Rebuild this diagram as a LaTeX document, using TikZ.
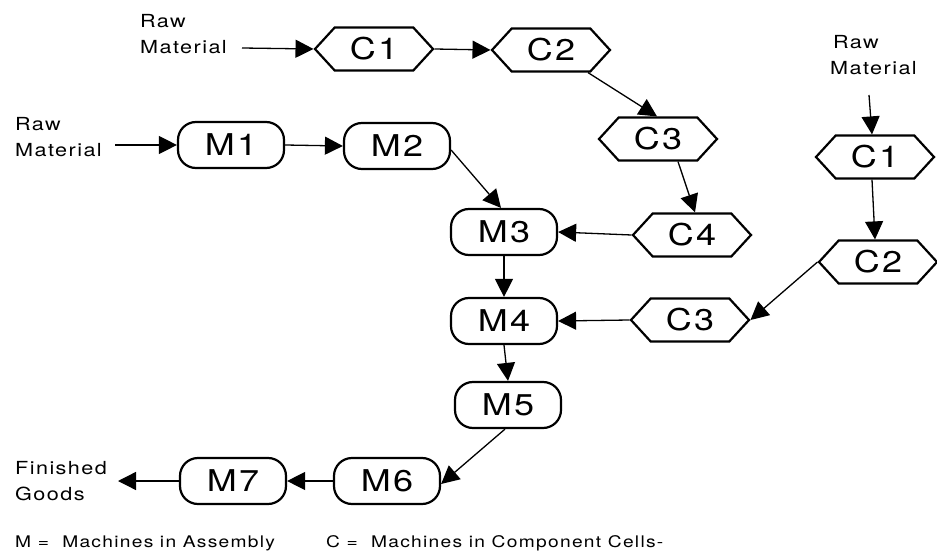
\documentclass[tikz,border=0pt]{standalone}
\usepackage{fontspec}
\setmainfont{TeX Gyre Heros}[LetterSpace=8,FakeStretch=1.2]
\usetikzlibrary{shapes.misc,shapes.symbols,arrows.meta}

\tikzset{
  mbox/.style={draw, line width=2.2pt, rounded corners=18pt,
    minimum width=106pt, minimum height=46pt, inner sep=0pt,
    font=\fontsize{30}{32}\selectfont},
  cbox/.style={draw, line width=2.2pt, signal, signal to=west and east,
    signal pointer angle=95, minimum width=118pt, minimum height=43pt,
    inner sep=0pt, font=\fontsize{30}{32}\selectfont},
  lbl/.style={align=left, inner sep=0pt, anchor=west,
    font=\fontsize{18}{30}\selectfont},
  keytext/.style={inner sep=0pt, anchor=west,
    font=\fontsize{16}{20}\selectfont},
  flow/.style={line width=1.3pt, -{Triangle[length=18pt,width=18pt]}},
}

\begin{document}
\begin{tikzpicture}[x=1pt,y=-1pt]
  \useasboundingbox (0,0) rectangle (937,556);

  % assembly line
  \node[mbox] (M1) at (231,145) {M1};
  \node[mbox] (M2) at (397,146) {M2};
  \node[mbox] (M3) at (504,232) {M3};
  \node[mbox] (M4) at (504,321) {M4};
  \node[mbox] (M5) at (508,405) {M5};
  \node[mbox] (M6) at (387,481) {M6};
  \node[mbox] (M7) at (233,481) {M7};

  % first component cell
  \node[cbox] (A1) at (374,49) {C1};
  \node[cbox] (A2) at (551,50) {C2};
  \node[cbox] (A3) at (658,139) {C3};
  \node[cbox] (A4) at (692,235) {C4};

  % second component cell
  \node[cbox] (B1) at (875,157) {C1};
  \node[cbox] (B2) at (878,262) {C2};
  \node[cbox] (B3) at (690,320) {C3};

  % texts
  \node[lbl] (rawA) at (140,34) {Raw\\[-4pt]Material};
  \node[lbl] (rawM) at (15,137) {Raw\\[-4pt]Material};
  \node[lbl] (rawB) at (830,55) {\hspace*{3pt}Raw\\[-4pt]Material};
  \node[lbl] (fin) at (15,481) {Finished\\[-4pt]Goods};
  \node[keytext] (keyM) at (15,543) {M =\ \ Machines in Assembly};
  \node[keytext] (keyC) at (326,543) {C =\ \ Machines in Component Cells-};

  \coordinate (rawAend) at (242,48);
  \coordinate (rawMend) at (115,145);
  \coordinate (rawBend) at (872,95);
  \coordinate (finend) at (118,481);

  % connectors
  \draw[flow] (rawAend) -- (A1.west);
  \draw[flow] (A1.east) -- (A2.west);
  \draw[flow] ([xshift=37pt]A2.south) -- ([xshift=-1pt]A3.north);
  \draw[flow] ([xshift=20pt]A3.south) -- ([xshift=3pt]A4.north);
  \draw[flow] (A4.west) -- (M3.east);

  \draw[flow] (rawMend) -- (M1.west);
  \draw[flow] (M1.east) -- (M2.west);
  \draw[flow] ([yshift=-4pt]M2.east) -- ([xshift=-3pt]M3.north);
  \draw[flow] (M3.south) -- (M4.north);
  \draw[flow] (B3.west) -- (M4.east);
  \draw[flow] (M4.south) -- (M5.north);
  \draw[flow] ([xshift=-3pt]M5.south) -- ([yshift=-3pt]M6.east);
  \draw[flow] (M6.west) -- (M7.east);
  \draw[flow] (M7.west) -- (finend);

  \draw[flow] ([xshift=-3pt]rawBend) -- ([xshift=-3pt]B1.north);
  \draw[flow] ([xshift=-3pt]B1.south) -- ([xshift=-3pt]B2.north);
  \draw[flow] (B2.west) -- (B3.east);
\end{tikzpicture}
\end{document}
